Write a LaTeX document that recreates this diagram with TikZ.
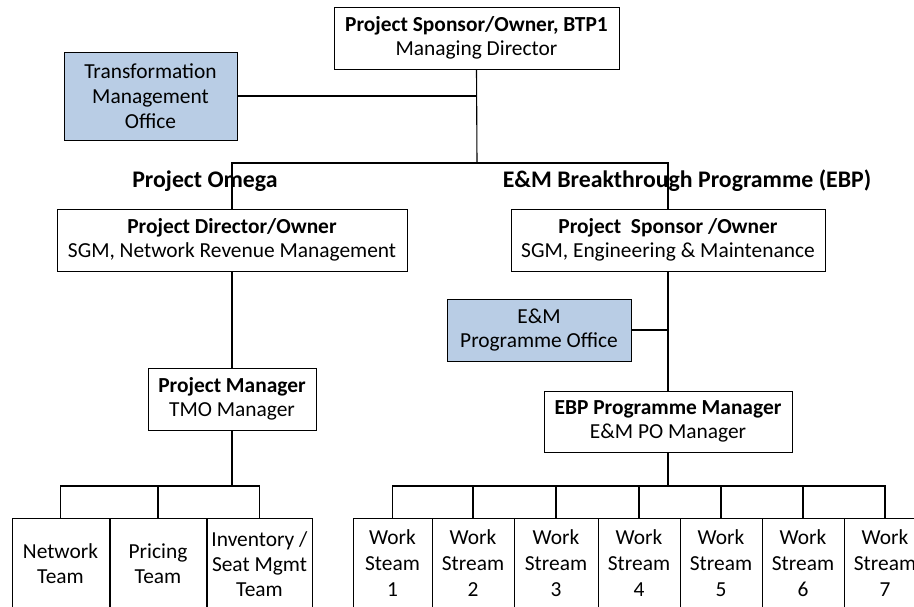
\documentclass[tikz,border=0pt]{standalone}
\usepackage{fontspec}
\setmainfont{Carlito}
\definecolor{pofill}{RGB}{185,205,229}
\begin{document}
\begin{tikzpicture}[x=1pt,y=-1pt,
  box/.style={draw=black,line width=1pt,inner sep=0pt,align=center,
    font=\fontsize{21.4}{24}\selectfont},
  office/.style={box,fill=pofill},
  lbl/.style={inner sep=0pt,font=\fontsize{23.8}{26}\selectfont\bfseries},
  conn/.style={line width=1.1pt}]
\clip (0,0) rectangle (914,606);
\fill[white] (0,0) rectangle (914,606);
% top level
\node[box,minimum width=285pt,minimum height=62pt] (top) at (476.5,38)
  {\textbf{Project Sponsor/Owner, BTP1}\\Managing Director};
\node[office,minimum width=173pt,minimum height=88pt,font=\fontsize{21.4}{25}\selectfont] (tmo) at (150.5,96)
  {Transformation\\Management\\Office};
\node[lbl] (omega) at (205,181) {Project Omega};
\node[lbl] (ebp) at (687,181) {E\&M Breakthrough Programme (EBP)};
% second level
\node[box,minimum width=350pt,minimum height=62pt] (pd) at (232,240)
  {\textbf{Project Director/Owner}\\SGM, Network Revenue Management};
\node[box,minimum width=314pt,minimum height=62pt] (ps) at (668,240)
  {\textbf{Project\ \ Sponsor /Owner}\\SGM, Engineering \& Maintenance};
\node[office,minimum width=184pt,minimum height=62pt] (empo) at (539,330)
  {E\&M\\Programme Office};
\node[box,minimum width=168pt,minimum height=62pt] (pm) at (232,399)
  {\textbf{Project Manager}\\TMO Manager};
\node[box,minimum width=248pt,minimum height=61pt] (epm) at (668,421.5)
  {\textbf{EBP Programme Manager}\\E\&M PO Manager};
% teams
\begin{scope}[every node/.append style={box,minimum height=92pt,font=\fontsize{21.4}{25}\selectfont}]
\node[minimum width=97pt] (net) at (60.5,564) {Network\\Team};
\node[minimum width=96pt] (pri) at (158,564) {Pricing\\Team};
\node[minimum width=105pt] (inv) at (259.5,564) {Inventory /\\Seat Mgmt\\Team};
\end{scope}
\begin{scope}[every node/.append style={box,minimum height=90pt,font=\fontsize{21.4}{26}\selectfont}]
\node[minimum width=79pt] (w1) at (392.5,563) {Work\\Steam\\1};
\node[minimum width=82pt] (w2) at (473,563) {Work\\Stream\\2};
\node[minimum width=84pt] (w3) at (556,563) {Work\\Stream\\3};
\node[minimum width=82pt] (w4) at (639,563) {Work\\Stream\\4};
\node[minimum width=82pt] (w5) at (721,563) {Work\\Stream\\5};
\node[minimum width=82pt] (w6) at (803,563) {Work\\Stream\\6};
\node[minimum width=82pt] (w7) at (885,563) {Work\\Stream\\7};
\end{scope}
% connectors
\coordinate (b1) at (477,163);
\coordinate (b2) at (232,486);
\coordinate (b3) at (668,486);
\draw[conn] (top.south) -- (b1);
\draw[conn] (tmo.east) -- (tmo.east -| b1);
\draw[conn] (pd.north) |- (b1) -| (ps.north);
\draw[conn] (pd.south) -- (pm.north);
\draw[conn] (pm.south) -- (b2);
\draw[conn] (net.north) |- (inv.north |- b2) -- (inv.north);
\draw[conn] (pri.north) -- (pri.north |- b2);
\draw[conn] (ps.south) -- (epm.north);
\draw[conn] (empo.east) -- (empo.east -| ps.south);
\draw[conn] (epm.south) -- (b3);
\draw[conn] (w1.north) |- (w7.north |- b3) -- (w7.north);
\foreach \w in {w2,w3,w4,w5,w6}
  \draw[conn] (\w.north) -- (\w.north |- b3);
\end{tikzpicture}
\end{document}
